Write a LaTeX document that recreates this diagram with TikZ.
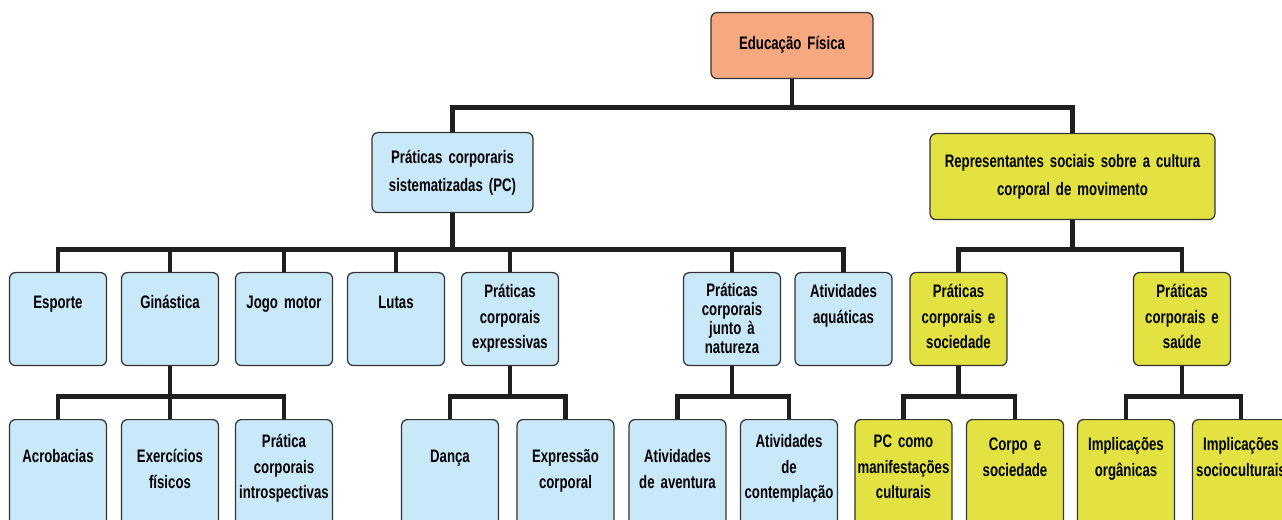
\documentclass[tikz,border=0pt]{standalone}
\usepackage{fontspec}
\setmainfont[FakeStretch=0.73]{Liberation Sans}
\usetikzlibrary{positioning}
\definecolor{pcblue}{RGB}{201,233,248}
\definecolor{repyellow}{RGB}{226,226,66}
\definecolor{efsalmon}{RGB}{246,168,128}
\newcommand{\boxfont}[1]{\fontsize{10.3}{#1}\selectfont\bfseries\fontdimen2\font=0.13em}

\begin{document}
\begin{tikzpicture}[x=0.02cm,y=-0.02cm,
    box/.style={draw=black!80,line width=0.7pt,rounded corners=0.12cm,anchor=north,
      inner xsep=0pt,inner ysep=0pt,align=center,font={\boxfont{14.5}}},
    small/.style={box,text width=1.94cm,minimum width=1.94cm},
    blue/.style={fill=pcblue},
    yellow/.style={fill=repyellow},
    bar/.style={line width=2.8pt,black!88,line join=miter}]
  \clip (0,0) rectangle (1282,520);
  % topo
  \node[box,fill=efsalmon,text width=3.24cm,text height=0.74cm,text depth=0.58cm] (ef) at (792,12) {Educação Física};
  \node[box,blue,text width=3.22cm,text height=0.62cm,text depth=0.98cm,font={\boxfont{16}}] (pc) at (452.5,132) {Práticas corporaris\\sistematizadas (PC)};
  \node[box,yellow,text width=5.7cm,text height=0.68cm,text depth=1.04cm,font={\boxfont{16}}] (rep) at (1072.5,133) {Representantes sociais sobre a cultura\\corporal de movimento};
  % nivel 3
  \node[small,blue,text height=0.72cm,text depth=1.14cm] (esp) at (58,272) {Esporte};
  \node[small,blue,text height=0.72cm,text depth=1.14cm] (gin) at (170,272) {Ginástica};
  \node[small,blue,text height=0.72cm,text depth=1.14cm] (jogo) at (284,272) {Jogo motor};
  \node[small,blue,text height=0.72cm,text depth=1.14cm] (lutas) at (396,272) {Lutas};
  \node[small,blue,text height=0.50cm,text depth=1.36cm] (expr) at (510,272) {Práticas\\corporais\\expressivas};
  \node[small,blue,text height=0.48cm,text depth=1.38cm,font={\boxfont{10.8}}] (nat) at (732,272) {Práticas\\corporais\\junto à\\natureza};
  \node[small,blue,text height=0.50cm,text depth=1.36cm] (aqua) at (843.5,272) {Atividades\\aquáticas};
  \node[small,yellow,text height=0.50cm,text depth=1.36cm] (soc) at (958.5,272) {Práticas\\corporais e\\sociedade};
  \node[small,yellow,text height=0.50cm,text depth=1.36cm] (sau) at (1182,272) {Práticas\\corporais e\\saúde};
  % nivel 4
  \node[small,blue,text height=0.86cm,text depth=1.36cm] (acro) at (58,419) {Acrobacias};
  \node[small,blue,text height=0.86cm,text depth=1.36cm] (exer) at (170,419) {Exercícios\\físicos};
  \node[small,blue,text height=0.56cm,text depth=1.66cm] (intro) at (284,419) {Prática\\corporais\\introspectivas};
  \node[small,blue,text height=0.86cm,text depth=1.36cm] (danca) at (450,419) {Dança};
  \node[small,blue,text height=0.86cm,text depth=1.36cm] (expc) at (565.5,419) {Expressão\\corporal};
  \node[small,blue,text height=0.86cm,text depth=1.36cm] (avent) at (677.5,419) {Atividades\\de aventura};
  \node[small,blue,text height=0.56cm,text depth=1.66cm] (contem) at (789,419) {Atividades\\de\\contemplação};
  \node[small,yellow,text height=0.56cm,text depth=1.66cm] (pccomo) at (903.5,419) {PC como\\manifestações\\culturais};
  \node[small,yellow,text height=0.62cm,text depth=1.60cm] (corpo) at (1015,419) {Corpo e\\sociedade};
  \node[small,yellow,text height=0.62cm,text depth=1.60cm] (org) at (1126,419) {Implicações\\orgânicas};
  \node[small,yellow,text height=0.62cm,text depth=1.60cm] (socio) at (1241,419) {Implicações\\socioculturais};
  % ligacoes
  \foreach \c in {pc,rep} \draw[bar] (ef.south) -- ++(0,28) -| (\c.north);
  \foreach \c in {esp,gin,jogo,lutas,expr,nat,aqua} \draw[bar] (pc.south) -- ++(0,36) -| (\c.north);
  \foreach \c in {soc,sau} \draw[bar] (rep.south) -- ++(0,29) -| (\c.north);
  \foreach \c in {acro,exer,intro} \draw[bar] (gin.south) -- ++(0,30) -| (\c.north);
  \foreach \c in {danca,expc} \draw[bar] (expr.south) -- ++(0,30) -| (\c.north);
  \foreach \c in {avent,contem} \draw[bar] (nat.south) -- ++(0,30) -| (\c.north);
  \foreach \c in {pccomo,corpo} \draw[bar] (soc.south) -- ++(0,30) -| (\c.north);
  \foreach \c in {org,socio} \draw[bar] (sau.south) -- ++(0,30) -| (\c.north);
\end{tikzpicture}
\end{document}
